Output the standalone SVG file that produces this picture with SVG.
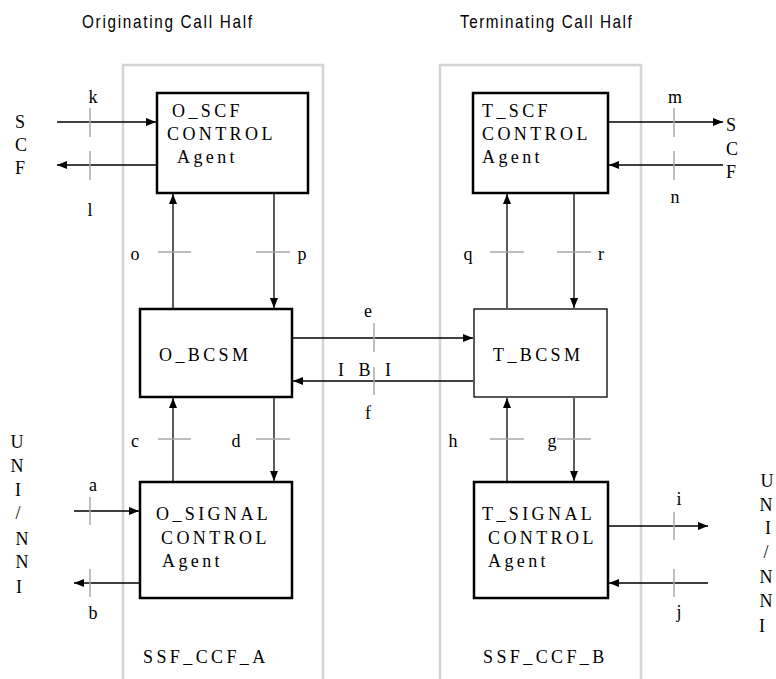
<svg xmlns="http://www.w3.org/2000/svg" width="776" height="679" viewBox="0 0 776 679">
<style>
.bg{fill:#ffffff}
.cont{fill:none;stroke:#d4d4d4;stroke-width:2.5}
.box{fill:#ffffff;stroke:#000;stroke-width:2.5}
.thin{fill:#ffffff;stroke:#000;stroke-width:1.3}
.arr{fill:none;stroke:#000;stroke-width:1.3;marker-end:url(#ah)}
.tick{fill:none;stroke:#a8a8a8;stroke-width:1.5}
.bt{font-family:'Liberation Serif','DejaVu Serif',serif;font-size:18px;letter-spacing:3.4px;fill:#000}
.lb{font-family:'Liberation Serif','DejaVu Serif',serif;font-size:18px;fill:#000;text-anchor:middle}
.ti{font-family:'Liberation Sans',Arial,sans-serif;font-size:18px;fill:#000}
</style>
<defs>
<marker id="ah" viewBox="0 0 10 8" refX="10" refY="4" markerWidth="10" markerHeight="8" markerUnits="userSpaceOnUse" orient="auto">
<path d="M0,0 L10,4 L0,8 Z" fill="#000"/>
</marker>
</defs>
<rect class="bg" x="0" y="0" width="776" height="679"/>

<g id="titles">
<text class="ti" transform="translate(82,28) scale(0.85,1)" textLength="200" lengthAdjust="spacing">Originating Call Half</text>
<text class="ti" transform="translate(460,28) scale(0.85,1)" textLength="202" lengthAdjust="spacing">Terminating Call Half</text>
</g>

<g id="SSF_CCF_A">
<path class="cont" d="M123,679 V65 H323 V679"/>
<text class="bt" x="143" y="663">SSF_CCF_A</text>
</g>
<g id="SSF_CCF_B">
<path class="cont" d="M440,679 V65 H641 V679"/>
<text class="bt" x="483" y="663">SSF_CCF_B</text>
</g>

<g id="O_SCF">
<rect class="box" x="157" y="93" width="151" height="100"/>
<text class="bt" x="172" y="117">O_SCF</text>
<text class="bt" x="167" y="140">CONTROL</text>
<text class="bt" x="177" y="163">Agent</text>
</g>
<g id="T_SCF">
<rect class="box" x="473" y="93" width="135" height="100"/>
<text class="bt" x="482" y="117">T_SCF</text>
<text class="bt" x="482" y="140">CONTROL</text>
<text class="bt" x="482" y="163">Agent</text>
</g>
<g id="O_BCSM">
<rect class="box" x="140" y="309" width="152" height="88"/>
<text class="bt" x="159" y="361">O_BCSM</text>
</g>
<g id="T_BCSM">
<rect class="thin" x="474" y="309" width="133" height="88"/>
<text class="bt" x="493" y="361">T_BCSM</text>
</g>
<g id="O_SIGNAL">
<rect class="box" x="140" y="482" width="152" height="116"/>
<text class="bt" x="156" y="520">O_SIGNAL</text>
<text class="bt" x="161" y="544">CONTROL</text>
<text class="bt" x="162" y="567">Agent</text>
</g>
<g id="T_SIGNAL">
<rect class="box" x="474" y="482" width="134" height="116"/>
<text class="bt" x="482" y="520">T_SIGNAL</text>
<text class="bt" x="488" y="544">CONTROL</text>
<text class="bt" x="488" y="567">Agent</text>
</g>

<g id="SCF_left">
<text class="lb" x="20" y="128">S</text>
<text class="lb" x="21" y="151">C</text>
<text class="lb" x="20" y="174">F</text>
</g>
<g id="SCF_right">
<text class="lb" x="731" y="131">S</text>
<text class="lb" x="732" y="155">C</text>
<text class="lb" x="731" y="178">F</text>
</g>
<g id="UNI_NNI_left">
<text class="lb" x="17" y="448">U</text>
<text class="lb" x="17" y="472">N</text>
<text class="lb" x="18" y="496">I</text>
<text class="lb" x="18" y="519">/</text>
<text class="lb" x="22" y="545">N</text>
<text class="lb" x="22" y="568">N</text>
<text class="lb" x="19" y="593">I</text>
</g>
<g id="UNI_NNI_right">
<text class="lb" x="767" y="487">U</text>
<text class="lb" x="766" y="511">N</text>
<text class="lb" x="768" y="534">I</text>
<text class="lb" x="766" y="558">/</text>
<text class="lb" x="766" y="583">N</text>
<text class="lb" x="766" y="607">N</text>
<text class="lb" x="762" y="632">I</text>
</g>

<g id="connectors">
<line class="arr" x1="57" y1="122" x2="156" y2="122"/>
<line class="arr" x1="156" y1="165" x2="57" y2="165"/>
<line class="arr" x1="609" y1="122" x2="723" y2="122"/>
<line class="arr" x1="723" y1="165" x2="609" y2="165"/>
<line class="arr" x1="173" y1="308" x2="173" y2="194"/>
<line class="arr" x1="274" y1="194" x2="274" y2="308"/>
<line class="arr" x1="507" y1="308" x2="507" y2="194"/>
<line class="arr" x1="574" y1="194" x2="574" y2="308"/>
<line class="arr" x1="293" y1="338" x2="473" y2="338"/>
<line class="arr" x1="473" y1="381" x2="293" y2="381"/>
<line class="arr" x1="173" y1="481" x2="173" y2="398"/>
<line class="arr" x1="274" y1="398" x2="274" y2="481"/>
<line class="arr" x1="507" y1="481" x2="507" y2="398"/>
<line class="arr" x1="574" y1="398" x2="574" y2="481"/>
<line class="arr" x1="74" y1="511" x2="139" y2="511"/>
<line class="arr" x1="139" y1="583" x2="74" y2="583"/>
<line class="arr" x1="609" y1="526" x2="708" y2="526"/>
<line class="arr" x1="708" y1="583" x2="609" y2="583"/>

<line class="tick" x1="90" y1="108" x2="90" y2="137"/>
<line class="tick" x1="90" y1="151" x2="90" y2="180"/>
<line class="tick" x1="674" y1="108" x2="674" y2="137"/>
<line class="tick" x1="674" y1="151" x2="674" y2="180"/>
<line class="tick" x1="158" y1="252" x2="191" y2="252"/>
<line class="tick" x1="256" y1="252" x2="290" y2="252"/>
<line class="tick" x1="490" y1="252" x2="524" y2="252"/>
<line class="tick" x1="557" y1="252" x2="591" y2="252"/>
<line class="tick" x1="374" y1="323" x2="374" y2="352"/>
<line class="tick" x1="374" y1="367" x2="374" y2="395"/>
<line class="tick" x1="158" y1="439" x2="191" y2="439"/>
<line class="tick" x1="256" y1="439" x2="290" y2="439"/>
<line class="tick" x1="490" y1="439" x2="524" y2="439"/>
<line class="tick" x1="557" y1="439" x2="591" y2="439"/>
<line class="tick" x1="90" y1="497" x2="90" y2="525"/>
<line class="tick" x1="90" y1="569" x2="90" y2="597"/>
<line class="tick" x1="674" y1="512" x2="674" y2="540"/>
<line class="tick" x1="674" y1="569" x2="674" y2="597"/>

<text class="lb" x="93" y="103">k</text>
<text class="lb" x="90" y="216">l</text>
<text class="lb" x="675" y="103">m</text>
<text class="lb" x="675" y="203">n</text>
<text class="lb" x="135" y="260">o</text>
<text class="lb" x="302" y="260">p</text>
<text class="lb" x="468" y="260">q</text>
<text class="lb" x="601" y="260">r</text>
<text class="lb" x="368" y="317">e</text>
<text class="lb" x="368" y="419">f</text>
<text class="lb" x="341" y="376">I</text>
<text class="lb" x="364.5" y="376">B</text>
<text class="lb" x="388" y="376">I</text>
<text class="lb" x="135" y="447">c</text>
<text class="lb" x="236" y="447">d</text>
<text class="lb" x="453" y="447">h</text>
<text class="lb" x="552" y="447">g</text>
<text class="lb" x="93" y="491">a</text>
<text class="lb" x="93" y="619">b</text>
<text class="lb" x="679" y="505">i</text>
<text class="lb" x="679" y="618">j</text>
</g>
</svg>
